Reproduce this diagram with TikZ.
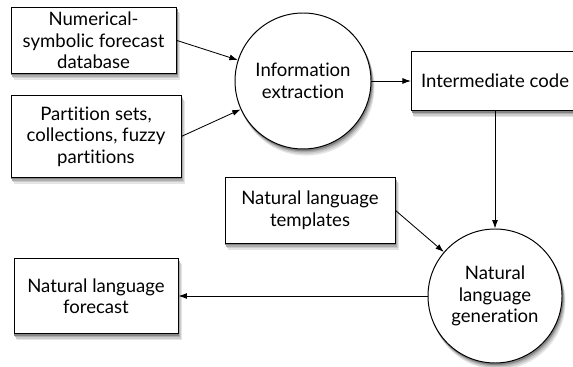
\documentclass[tikz,border=0pt]{standalone}
\usepackage{fontspec}
\setmainfont{Lato}[Ligatures=NoCommon]
\usepackage{tikz}
\usetikzlibrary{arrows.meta,backgrounds}
\tikzset{
	boxnode/.style={draw, fill=white, line width=0.7pt, align=center, inner sep=0pt,
		font=\fontsize{13.2}{15.3}\selectfont},
	procnode/.style={boxnode, circle},
	arr/.style={-{Latex[length=6pt,width=4.2pt]}, line width=0.6pt}
}

\begin{document}
\begin{tikzpicture}
			%%%%% START %%%%%
			\useasboundingbox (0, 0) rectangle (14.325, 9.15);
			\clip (0, 0) rectangle (14.325, 9.15);
			
			\node[boxnode, minimum width=4.13cm, minimum height=1.63cm] (numdb) at (2.34, 8.14) {Numerical-\\symbolic forecast\\database};
			\node[boxnode, minimum width=4.25cm, minimum height=2.03cm] (parts) at (2.4, 5.74) {Partition sets,\\collections, fuzzy\\partitions};
			\node[procnode, minimum size=3.4cm] (infx) at (7.575, 7.125) {Information\\extraction};
			\node[boxnode, minimum width=4.18cm, minimum height=1.48cm] (icode) at (12.375, 7.125) {Intermediate code};
			
			\node[boxnode, minimum width=4.25cm, minimum height=1.63cm] (tmpl) at (7.75, 3.89) {Natural language\\templates};
			\node[procnode, minimum size=3.35cm] (nlg) at (12.375, 1.75) {Natural\\language\\generation};
			\node[boxnode, minimum width=4.1cm, minimum height=1.88cm] (fcst) at (2.4, 1.75) {Natural language\\forecast};
			
			\draw[arr] (numdb.east) -- (infx);
			\draw[arr] (parts.east) -- (infx);
			\draw[arr] (infx) -- (icode);
			\draw[arr] (icode) -- (nlg);
			\draw[arr] (tmpl.east) -- (nlg);
			\draw[arr] (nlg) -- (fcst);
			
			% shadows
			\begin{pgfonlayer}{background}
				\fill[white] (0, 0) rectangle (14.325, 9.15);
				\foreach \sx/\sy/\sc in {2.2/-4.4/10, 1.7/-3.3/20, 1.2/-2.2/32, 0.7/-1.2/48} {
					\foreach \n in {numdb,parts,icode,tmpl,fcst}
						\fill[black!\sc] ([shift={(\sx pt,\sy pt)}]\n.south west) rectangle ([shift={(\sx pt,\sy pt)}]\n.north east);
					\fill[black!\sc] ([shift={(\sx pt,\sy pt)}]infx.center) circle (1.71);
					\fill[black!\sc] ([shift={(\sx pt,\sy pt)}]nlg.center) circle (1.685);
				}
			\end{pgfonlayer}
			%%%%% END %%%%%
		\end{tikzpicture}
\end{document}
